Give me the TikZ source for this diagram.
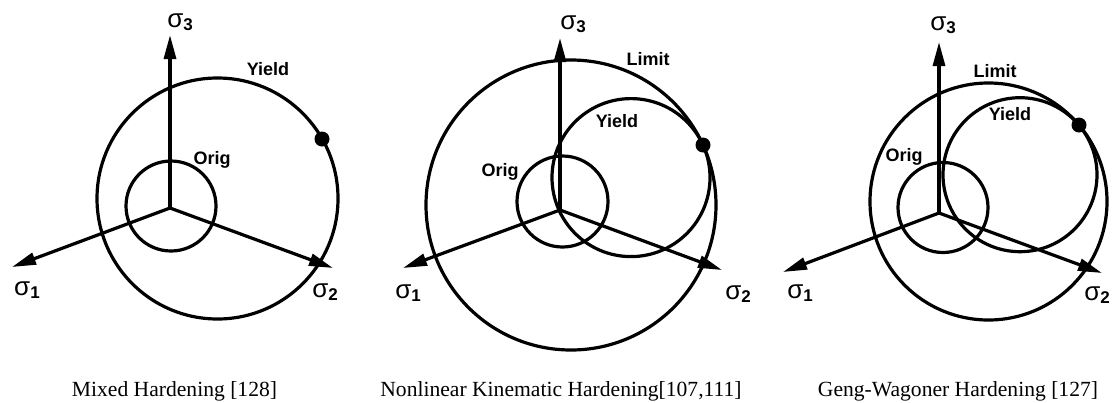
\documentclass[tikz,border=0pt]{standalone}
\usepackage{fontspec}
\setmainfont{Liberation Serif}
\newfontfamily\lblfont{Liberation Sans}
\usetikzlibrary{arrows.meta}
\newcommand\mysig[1]{σ\raisebox{-3pt}{\fontsize{17}{17}\selectfont\bfseries #1}}
\begin{document}
\begin{tikzpicture}[x=1pt,y=-1pt,
  axis/.style={line width=3.2pt,-{Triangle[length=24pt,width=12pt]}},
  surf/.style={line width=3.2pt},
  lbl/.style={font=\lblfont\bfseries\fontsize{18}{18}\selectfont,inner sep=0pt},
  sig/.style={font=\lblfont\fontsize{26}{26}\selectfont,inner sep=0pt},
  captext/.style={font=\fontsize{21.6}{22}\selectfont,inner sep=0pt,anchor=base}]
\useasboundingbox (0,0) rectangle (1114,402);

% ---------- Panel 1: Mixed Hardening ----------
\coordinate (o1) at (170,208);
\coordinate (a13) at (170,35);
\coordinate (a11) at (12,267);
\coordinate (a12) at (333,268);
\draw[surf] (171,206) circle[radius=45pt];
\draw[surf] (217.5,198.5) circle[radius=120.5pt];
\draw[axis] (o1) -- (a13);
\draw[axis] (o1) -- (a11);
\draw[axis] (o1) -- (a12);
\coordinate (d1) at (322,139);
\fill (d1) circle[radius=7.5pt];
\node[lbl] (yield1) at (268,69) {Yield};
\node[lbl] (orig1) at (212,160) {Orig};
\node[sig] (s13) at (180,22) {\mysig{3}};
\node[sig] (s11) at (27,290) {\mysig{1}};
\node[sig] (s12) at (325,292) {\mysig{2}};
\node[captext] (cap1) at (174.5,396) {Mixed Hardening [128]};

% ---------- Panel 2: Nonlinear Kinematic Hardening ----------
\coordinate (o2) at (560,210);
\coordinate (a23) at (560,38);
\coordinate (a21) at (403,268);
\coordinate (a22) at (722,270);
\draw[surf] (562.5,201.5) circle[radius=45.5pt];
\draw[surf] (571,205) circle[radius=145pt];
\draw[surf] (631,177.6) circle[radius=79pt];
\draw[axis] (o2) -- (a23);
\draw[axis] (o2) -- (a21);
\draw[axis] (o2) -- (a22);
\coordinate (d2) at (703,145);
\fill (d2) circle[radius=7.5pt];
\node[lbl] (limit2) at (648,59) {Limit};
\node[lbl] (yield2) at (617,121) {Yield};
\node[lbl] (orig2) at (500,172) {Orig};
\node[sig] (s23) at (573,24) {\mysig{3}};
\node[sig] (s21) at (408,293) {\mysig{1}};
\node[sig] (s22) at (738,294) {\mysig{2}};
\node[captext] (cap2) at (561,396) {Nonlinear Kinematic Hardening[107,111]};

% ---------- Panel 3: Geng-Wagoner Hardening ----------
\coordinate (o3) at (939,213);
\coordinate (a33) at (939,42);
\coordinate (a31) at (783,272);
\coordinate (a32) at (1102,273);
\draw[surf] (943,207.5) circle[radius=45pt];
\draw[surf] (988.5,201.5) circle[radius=118.5pt];
\draw[surf] (1020,174.7) circle[radius=77pt];
\draw[axis] (o3) -- (a33);
\draw[axis] (o3) -- (a31);
\draw[axis] (o3) -- (a32);
\coordinate (d3) at (1079,125);
\fill (d3) circle[radius=7.5pt];
\node[lbl] (limit3) at (995,71) {Limit};
\node[lbl] (yield3) at (1010,114) {Yield};
\node[lbl] (orig3) at (904,157) {Orig};
\node[sig] (s33) at (943,25) {\mysig{3}};
\node[sig] (s31) at (800,293) {\mysig{1}};
\node[sig] (s32) at (1097,295) {\mysig{2}};
\node[captext] (cap3) at (958,396) {Geng-Wagoner Hardening [127]};
\end{tikzpicture}
\end{document}
